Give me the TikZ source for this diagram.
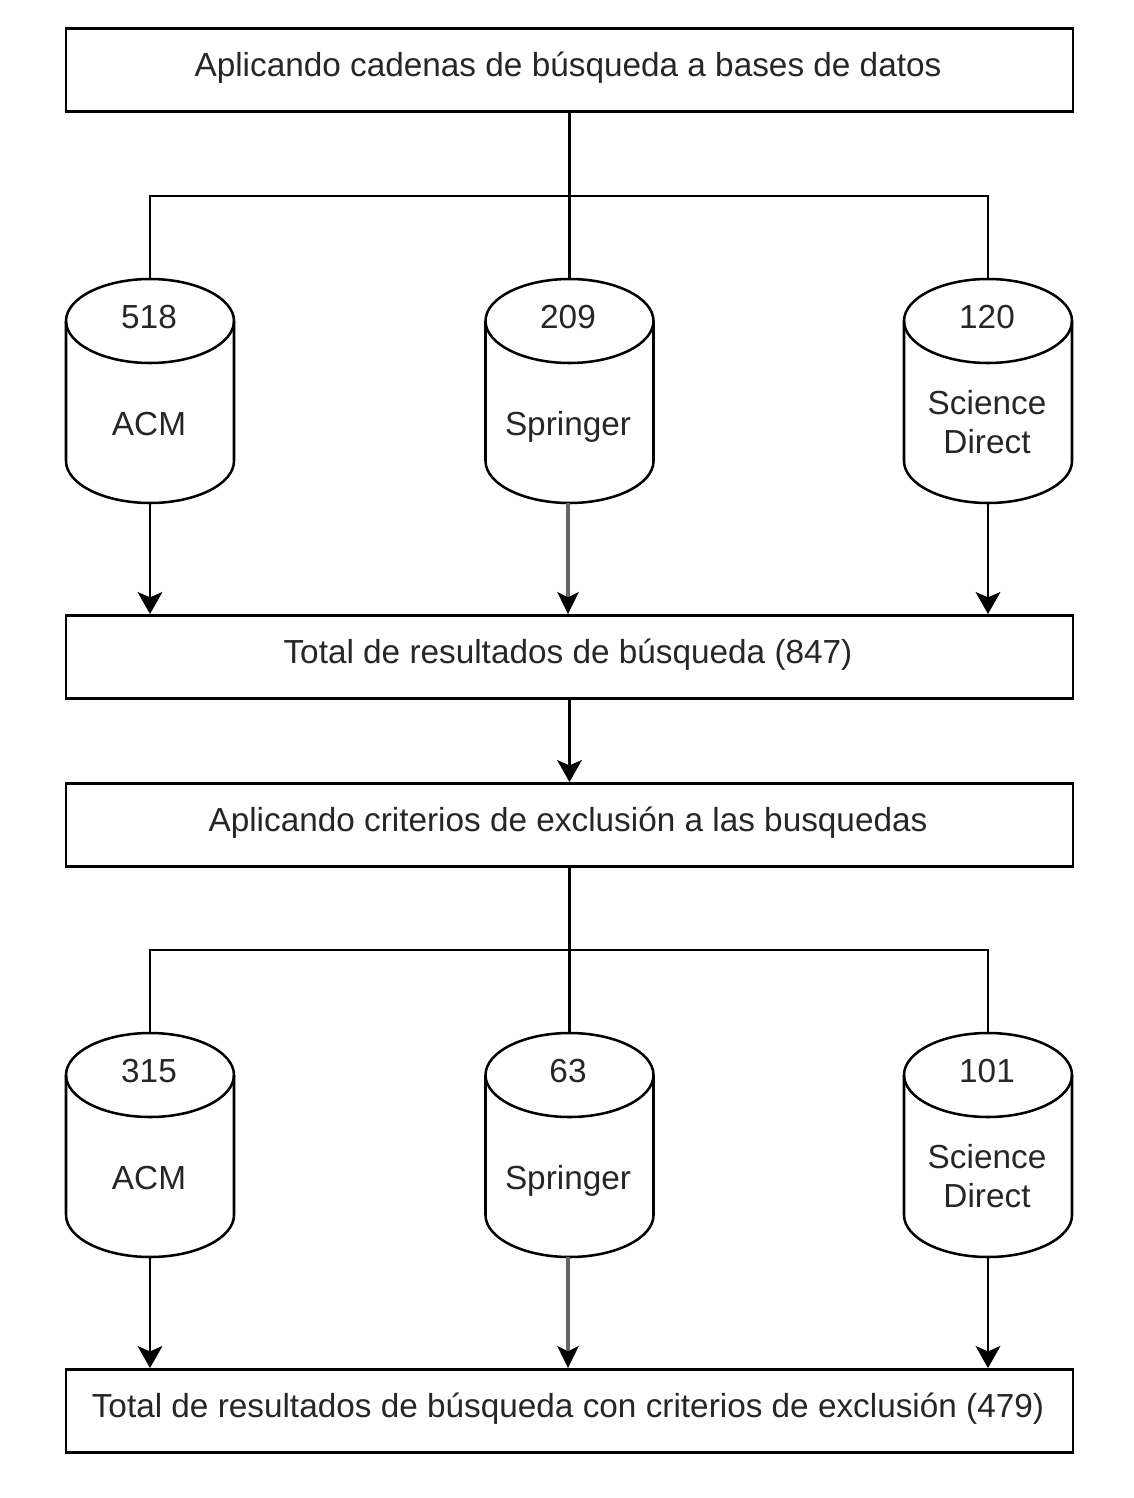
\documentclass[tikz,border=0pt]{standalone}
\usepackage{fontspec}
\setmainfont{Liberation Sans}
\usetikzlibrary{arrows.meta}
\begin{document}
\begin{tikzpicture}[x=0.75pt,y=-0.75pt,
 line/.style={draw=black,line width=1.9pt},
 box/.style={draw=black,line width=1.9pt,fill=white,minimum width=755.25pt,minimum height=62.5pt,inner sep=0pt},
 lab/.style={inner sep=0pt,align=center,font=\fontsize{25pt}{29.2pt}\selectfont,text=black!85},
 blab/.style={lab,anchor=base},
 dbnode/.style={minimum width=126pt,minimum height=168pt,inner sep=0pt},
 arr/.style={line,-{Stealth[length=16.5pt,width=18.5pt,inset=4pt]}},
 softarr/.style={draw=black!60,line width=2.3pt,-{Stealth[length=16.5pt,width=16pt,inset=4pt,color=black]}}]
\useasboundingbox (0,0) rectangle (1134,1498);
\newcommand{\dbshape}[3]{%
 \node[dbnode] (#1) at (#2,#3) {};
 \draw[line,fill=white] (#2-84,#3-70) .. controls (#2-84,#3-93) and (#2-46,#3-112) .. (#2,#3-112)
   .. controls (#2+46,#3-112) and (#2+84,#3-93) .. (#2+84,#3-70)
   -- (#2+84,#3+70) .. controls (#2+84,#3+93) and (#2+46,#3+112) .. (#2,#3+112)
   .. controls (#2-46,#3+112) and (#2-84,#3+93) .. (#2-84,#3+70) -- cycle;
 \draw[line] (#2-84,#3-70) .. controls (#2-84,#3-47) and (#2-46,#3-28) .. (#2,#3-28)
   .. controls (#2+46,#3-28) and (#2+84,#3-47) .. (#2+84,#3-70);
}
\node[box] (t1) at (569.5,70) {};
\node[lab] (t1l) at (568,68) {Aplicando cadenas de búsqueda a bases de datos};
\node[box] (t2) at (569.5,657) {};
\node[lab] (t2l) at (568,655) {Total de resultados de búsqueda (847)};
\node[box] (t3) at (569.5,825) {};
\node[lab] (t3l) at (568,823) {Aplicando criterios de exclusión a las busquedas};
\node[box] (t4) at (569.5,1411) {};
\node[lab] (t4l) at (568,1409) {Total de resultados de búsqueda con criterios de exclusión (479)};
\dbshape{a1}{150}{391}
\dbshape{a2}{569.5}{391}
\dbshape{a3}{988}{391}
\dbshape{c1}{150}{1145}
\dbshape{c2}{569.5}{1145}
\dbshape{c3}{988}{1145}
\node[blab] (n1) at (149,328) {518};
\node[blab] (n2) at (568,328) {209};
\node[blab] (n3) at (987,328) {120};
\node[blab] (l1) at (149,435) {ACM};
\node[blab] (l2) at (568,435) {Springer};
\node[lab] (l3) at (987,422) {Science\\Direct};
\node[blab] (n4) at (149,1082) {315};
\node[blab] (n5) at (568,1082) {63};
\node[blab] (n6) at (987,1082) {101};
\node[blab] (l4) at (149,1189) {ACM};
\node[blab] (l5) at (568,1189) {Springer};
\node[lab] (l6) at (987,1176) {Science\\Direct};
\coordinate (j1) at (569.5,196);
\coordinate (j2) at (569.5,950);
\draw[line] (t1.south) -- (a2.north);
\draw[line] (a1.north) |- (j1) -| (a3.north);
\draw[line] (t3.south) -- (c2.north);
\draw[line] (c1.north) |- (j2) -| (c3.north);
\draw[arr] (a1.south) -- (a1.south |- t2.north);
\draw[softarr] ([xshift=-1.5*0.75pt]a2.south) -- ([xshift=-1.5*0.75pt]a2.south |- t2.north);
\draw[arr] (a3.south) -- (a3.south |- t2.north);
\draw[arr] (c1.south) -- (c1.south |- t4.north);
\draw[softarr] ([xshift=-1.5*0.75pt]c2.south) -- ([xshift=-1.5*0.75pt]c2.south |- t4.north);
\draw[arr] (c3.south) -- (c3.south |- t4.north);
\draw[arr] (t2.south) -- (t3.north);
\end{tikzpicture}
\end{document}
